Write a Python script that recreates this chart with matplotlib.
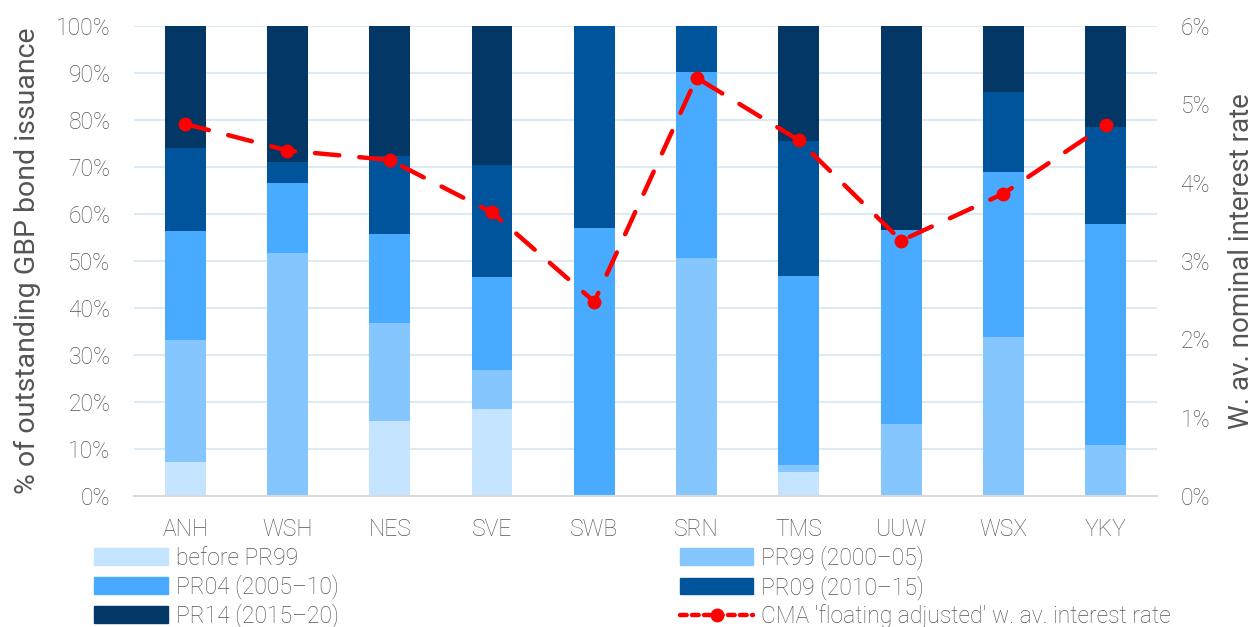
import numpy as np
import matplotlib.pyplot as plt
from matplotlib.patches import Patch
from matplotlib.lines import Line2D

plt.rcParams['font.family'] = ['Roboto', 'DejaVu Sans']
plt.rcParams['font.weight'] = 'light'

companies = ['ANH', 'WSH', 'NES', 'SVE', 'SWB', 'SRN', 'TMS', 'UUW', 'WSX', 'YKY']
# shares of outstanding GBP bond issuance, % (stacked)
before_pr99 = [7.2, 0.0, 16.0, 18.5, 0.0, 0.0, 5.0, 0.0, 0.0, 0.0]
pr99 = [25.9, 51.8, 20.9, 8.4, 0.0, 50.7, 1.6, 15.3, 33.9, 10.9]
pr04 = [23.3, 14.9, 18.8, 19.6, 57.1, 39.5, 40.1, 41.2, 35.1, 47.0]
pr09 = [17.6, 4.3, 16.6, 23.9, 42.9, 9.8, 28.8, 0.0, 16.9, 20.6]
pr14 = [26.0, 29.0, 27.7, 29.6, 0.0, 0.0, 24.5, 43.5, 14.1, 21.5]
rate = [4.75, 4.41, 4.29, 3.62, 2.48, 5.34, 4.54, 3.26, 3.86, 4.74]

series = [before_pr99, pr99, pr04, pr09, pr14]
names = ['before PR99', 'PR99 (2000\u201305)', 'PR04 (2005\u201310)', 'PR09 (2010\u201315)', 'PR14 (2015\u201320)']
colors = ['#C5E4FF', '#86C6FF', '#48ABFF', '#00549C', '#023766']
grey = '#555555'

fig = plt.figure(figsize=(12.55, 6.27), dpi=100)
ax = fig.add_axes([0.1068, 0.209, 0.815, 0.7495])
ax2 = ax.twinx()

x = np.arange(len(companies))
bottom = np.zeros(len(companies))
for vals, c in zip(series, colors):
    ax.bar(x, vals, 0.4, bottom=bottom, color=c, lw=0, zorder=2)
    bottom += np.array(vals)

ax2.plot(x, rate, color='#FF0000', lw=3.2, ls=(0, (5.5, 4.5)), marker='o', ms=9,
         dash_capstyle='round', zorder=3)

ax.set_xlim(-0.5, len(companies) - 0.5)
ax.set_ylim(0, 100)
ax2.set_ylim(0, 6)
ax.set_yticks(np.arange(0, 101, 10))
ax.set_yticklabels([f'{v}%' for v in range(0, 101, 10)])
ax2.set_yticks(np.arange(0, 7))
ax2.set_yticklabels([f'{v}%' for v in range(0, 7)])
ax.set_xticks(x)
ax.set_xticklabels(companies)
ax.yaxis.grid(True, color='#DCEAF6', lw=1.5, zorder=0)
ax.set_axisbelow(True)

for a in (ax, ax2):
    for s in ['top', 'left', 'right']:
        a.spines[s].set_visible(False)
    a.spines['bottom'].set_color('#D9D9D9')
    a.spines['bottom'].set_linewidth(1.5)
    a.tick_params(length=0, labelsize=16.5, colors=grey, pad=17)
ax2.spines['bottom'].set_visible(False)
ax.tick_params(axis='x', pad=16)

ax.set_ylabel('% of outstanding GBP bond issuance', fontsize=20.5, color=grey, labelpad=11)
ax2.set_ylabel('W. av. nominal interest rate', fontsize=20, color=grey, labelpad=13)

handles = [Patch(color=c) for c in colors]
line_h = Line2D([], [], color='#FF0000', lw=3.2, ls=(0, (1.5, 1.2)), marker='o', ms=9,
                dash_capstyle='round')
order = [handles[0], handles[2], handles[4], handles[1], handles[3], line_h]
labels = [names[0], names[2], names[4], names[1], names[3],
          "CMA 'floating adjusted' w. av. interest rate"]
fig.legend(order, labels, ncol=2, loc='upper left', bbox_to_anchor=(0.066, 0.148),
           frameon=False, fontsize=16.5, labelcolor=grey, handlelength=3.2,
           handleheight=0.75, handletextpad=0.35, columnspacing=14.9,
           labelspacing=0.2, borderpad=0)

fig.savefig('out.png', dpi=100)
